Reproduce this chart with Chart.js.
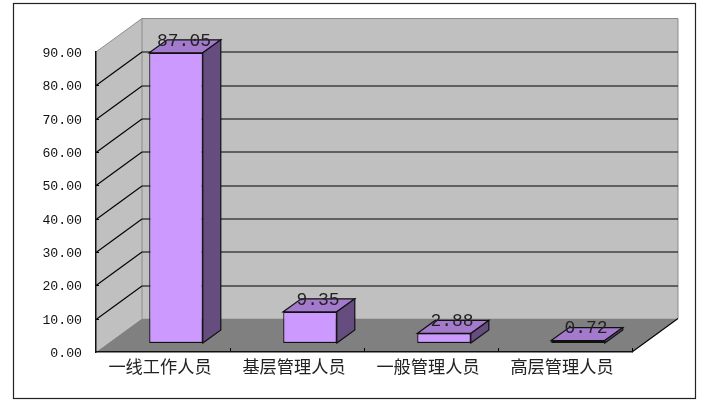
<!DOCTYPE html>
<html>
<head>
<meta charset="utf-8">
<title>chart</title>
<style>
  html, body { margin: 0; padding: 0; background: #fff; }
  canvas { display: block; }
</style>
<script src="https://cdn.jsdelivr.net/npm/chart.js@4"></script>
</head>
<body>
<canvas id="staffChart" width="710" height="406"></canvas>
<script>
const categories = ['一线工作人员', '基层管理人员', '一般管理人员', '高层管理人员'];
const shares = [87.05, 9.35, 2.88, 0.72];
const tickValues = [0, 10, 20, 30, 40, 50, 60, 70, 80, 90];

// depth of the fake 3D box, in pixels
const depthX = 46;
const depthY = 33.5;
const barFrontX = 13;
const barFrontY = -9;
const barSideX = 18;
const barSideY = -13;

function poly(ctx, pts, fill, stroke, lineWidth) {
    ctx.beginPath();
    pts.forEach((p, i) => i ? ctx.lineTo(p[0], p[1]) : ctx.moveTo(p[0], p[1]));
    ctx.closePath();
    if (fill) {
        ctx.fillStyle = fill;
        ctx.fill();
    }
    if (stroke) {
        ctx.strokeStyle = stroke;
        ctx.lineWidth = lineWidth || 1;
        ctx.stroke();
    }
}

function line(ctx, x1, y1, x2, y2, color, width) {
    ctx.beginPath();
    ctx.moveTo(x1, y1);
    ctx.lineTo(x2, y2);
    ctx.strokeStyle = color;
    ctx.lineWidth = width || 1;
    ctx.stroke();
}

const box3d = {
    id: 'box3d',
    beforeDraw(chart) {
        const ctx = chart.ctx;
        const { left, right, top, bottom } = chart.chartArea;
        const y = chart.scales.y;
        ctx.save();
        // outer frame
        ctx.fillStyle = '#ffffff';
        ctx.fillRect(0, 0, 710, 406);
        ctx.strokeStyle = '#222222';
        ctx.lineWidth = 1.2;
        ctx.strokeRect(13.5, 3.5, 682, 395);
        // walls and floor
        poly(ctx, [[left, top], [left + depthX, top - depthY], [left + depthX, bottom - depthY], [left, bottom]], '#c0c0c0');
        poly(ctx, [[left + depthX, top - depthY], [right + depthX, top - depthY], [right + depthX, bottom - depthY], [left + depthX, bottom - depthY]], '#c0c0c0');
        poly(ctx, [[left, bottom], [left + depthX, bottom - depthY], [right + depthX, bottom - depthY], [right, bottom]], '#808080');
        // wall edges
        line(ctx, left, top, left + depthX, top - depthY, '#8c8c8c', 1);
        line(ctx, left + depthX, top - depthY, right + depthX, top - depthY, '#8c8c8c', 1);
        line(ctx, right + depthX, top - depthY, right + depthX, bottom - depthY, '#8c8c8c', 1);
        line(ctx, left + depthX, top - depthY, left + depthX, bottom - depthY, '#8c8c8c', 1);
        // grid lines running over side wall and back wall
        tickValues.forEach(v => {
            if (v === 0 || v === 90) return;
            const py = Math.round(y.getPixelForValue(v)) + 0.5;
            line(ctx, left, py, left + depthX, py - depthY, '#000000', 1.1);
            line(ctx, left + depthX, py - depthY, right + depthX, py - depthY, '#000000', 1.2);
            line(ctx, left, py, left + 3, py, '#000000', 1);
        });
        line(ctx, right, bottom, right + depthX, bottom - depthY, '#000000', 1.1);
        // category ticks on the floor edge
        const step = (right - left) / categories.length;
        for (let i = 1; i <= categories.length; i++) {
            line(ctx, left + step * i + 0.5, bottom - 4, left + step * i + 0.5, bottom, '#000000', 1);
        }
        ctx.restore();
    },
    beforeDatasetDraw(chart, args) {
        const ctx = chart.ctx;
        const meta = chart.getDatasetMeta(args.index);
        ctx.save();
        meta.data.forEach(bar => {
            const { x, y, width, base } = bar.getProps(['x', 'y', 'width', 'base'], true);
            const l = x - width / 2 + barFrontX;
            const r = x + width / 2 + barFrontX;
            const t = y + barFrontY;
            const b = base + barFrontY;
            // top face, then side face
            poly(ctx, [[l, t], [l + barSideX, t + barSideY], [r + barSideX, t + barSideY], [r, t]], '#a37acc', '#111111', 1.2);
            poly(ctx, [[r, t], [r + barSideX, t + barSideY], [r + barSideX, b + barSideY], [r, b]], '#664d80', '#111111', 1.2);
        });
        ctx.restore();
        // front faces are the library's own bars, shifted into the box
        ctx.save();
        ctx.translate(barFrontX, barFrontY);
    },
    afterDatasetDraw(chart) {
        chart.ctx.restore();
    },
    afterDatasetsDraw(chart) {
        const ctx = chart.ctx;
        const meta = chart.getDatasetMeta(0);
        ctx.save();
        ctx.font = '18px "Liberation Mono"';
        ctx.fillStyle = '#222222';
        ctx.textAlign = 'center';
        ctx.textBaseline = 'middle';
        meta.data.forEach((bar, i) => {
            const { x, y } = bar.getProps(['x', 'y'], true);
            ctx.fillText(shares[i].toFixed(2), x + barFrontX + barSideX / 2 - 1, y + barFrontY + barSideY + 1);
        });
        ctx.restore();
    }
};

new Chart(document.getElementById('staffChart'), {
    type: 'bar',
    data: {
        labels: categories,
        datasets: [{
            data: shares,
            backgroundColor: '#cc99ff',
            borderColor: '#111111',
            borderWidth: 1.2,
            borderSkipped: false,
            barPercentage: 0.4,
            categoryPercentage: 1
        }]
    },
    plugins: [box3d],
    options: {
        responsive: false,
        animation: false,
        layout: { padding: { top: 52, right: 78, left: 0, bottom: 0 } },
        plugins: { legend: { display: false }, tooltip: { enabled: false } },
        scales: {
            x: {
                afterFit(scale) { scale.height = 54; },
                grid: { display: false, drawTicks: false },
                border: { display: true, color: '#111111', width: 1.5 },
                ticks: {
                    color: '#222222',
                    padding: 4,
                    labelOffset: -3,
                    maxRotation: 0,
                    autoSkip: false,
                    font: { family: '"Noto Sans CJK SC"', size: 17.2 }
                }
            },
            y: {
                min: 0,
                max: 90,
                afterFit(scale) { scale.width = 96; },
                afterBuildTicks(scale) { scale.ticks = tickValues.map(v => ({ value: v })); },
                grid: { display: false, drawTicks: false },
                border: { display: true, color: '#111111', width: 1.5 },
                ticks: {
                    color: '#111111',
                    padding: 14,
                    labelOffset: 1.5,
                    callback: value => value.toFixed(2),
                    font: { family: '"Liberation Mono"', size: 13.2 }
                }
            }
        }
    }
});
</script>
</body>
</html>
